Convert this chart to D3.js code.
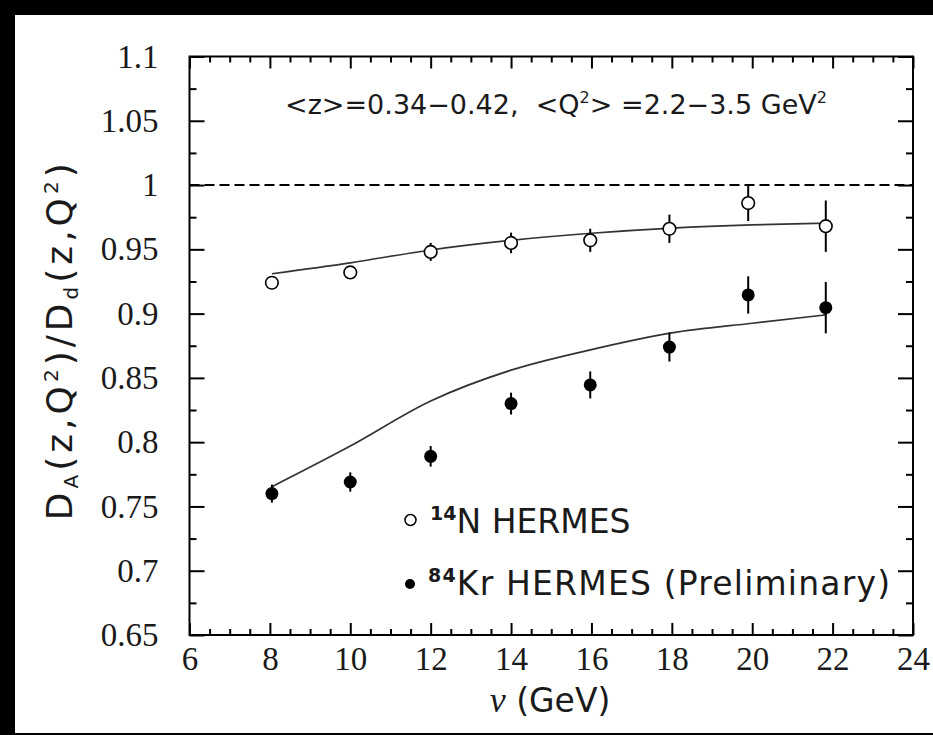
<!DOCTYPE html>
<html>
<head>
<meta charset="utf-8">
<script src="https://cdn.jsdelivr.net/npm/d3@7"></script>
<style>
  html, body { margin: 0; padding: 0; background: #000; }
  svg { display: block; }
</style>
</head>
<body>
<svg id="chart" width="933" height="735"></svg>
<script>
// Beam energy nu (GeV) of each bin
const nu = [8.05, 10.0, 12.0, 14.0, 15.97, 17.94, 19.9, 21.83];
// 14N HERMES multiplicity ratio and its uncertainty
const ratioN = [0.924, 0.932, 0.948, 0.955, 0.957, 0.966, 0.986, 0.968];
const errN   = [0.005, 0.005, 0.007, 0.008, 0.009, 0.011, 0.014, 0.020];
// 84Kr HERMES (preliminary) multiplicity ratio and its uncertainty
const ratioKr = [0.760, 0.769, 0.789, 0.830, 0.8445, 0.874, 0.9145, 0.9046];
const errKr   = [0.007, 0.0075, 0.008, 0.0085, 0.0105, 0.0113, 0.0145, 0.020];
// Model curves
const fitNu  = [8.05, 10, 12, 14, 16, 18, 20, 21.83];
const fitN   = [0.931, 0.9395, 0.9495, 0.957, 0.9625, 0.9665, 0.969, 0.9703];
const fitKr  = [0.7654, 0.797, 0.832, 0.856, 0.872, 0.885, 0.8925, 0.899];
// Axis ticks
const xTicks = [6, 8, 10, 12, 14, 16, 18, 20, 22, 24];
const xTickLabels = ["6", "8", "10", "12", "14", "16", "18", "20", "22", "24"];
const yTicks = [0.65, 0.7, 0.75, 0.8, 0.85, 0.9, 0.95, 1.0, 1.05, 1.1];
const yTickLabels = ["0.65", "0.7", "0.75", "0.8", "0.85", "0.9", "0.95", "1", "1.05", "1.1"];

const svg = d3.select("#chart");

// white page on black surround
svg.append("rect").attr("x", 15).attr("y", 15).attr("width", 918).attr("height", 718).attr("fill", "#fff");

const x = d3.scaleLinear().domain([6, 24]).range([189.5, 913]);
const y = d3.scaleLinear().domain([0.65, 1.1]).range([635, 56.5]);

const serif = "'Liberation Serif', 'Times New Roman', serif";
const sans = "'DejaVu Sans', 'Liberation Sans', sans-serif";
const ink = "#1a1a1a";

const xMinor = d3.range(6, 24.01, 0.5).filter(v => Math.abs(v / 2 - Math.round(v / 2)) > 1e-6);
const yMinor = d3.range(0, 9).map(i => 0.675 + i * 0.05);

function styleAxis(g) {
  g.select(".domain").remove();
  g.selectAll("line").attr("stroke", "#000").attr("stroke-width", 2);
  g.selectAll("text").attr("font-family", serif).attr("font-size", 33).attr("fill", ink);
}

// bottom axis (labels) and top mirror
svg.append("g").attr("transform", `translate(0,${y(0.65)})`)
  .call(d3.axisBottom(x).tickValues(xTicks).tickFormat((d, i) => xTickLabels[i]).tickSizeInner(-12).tickSizeOuter(0).tickPadding(12))
  .call(styleAxis);
svg.append("g").attr("transform", `translate(0,${y(0.65)})`)
  .call(d3.axisBottom(x).tickValues(xMinor).tickFormat("").tickSizeInner(-6).tickSizeOuter(0))
  .call(styleAxis);
svg.append("g").attr("transform", `translate(0,${y(1.1)})`)
  .call(d3.axisTop(x).tickValues(xTicks).tickFormat("").tickSizeInner(-12).tickSizeOuter(0))
  .call(styleAxis);
svg.append("g").attr("transform", `translate(0,${y(1.1)})`)
  .call(d3.axisTop(x).tickValues(xMinor).tickFormat("").tickSizeInner(-6).tickSizeOuter(0))
  .call(styleAxis);

// left axis (labels) and right mirror
svg.append("g").attr("transform", `translate(${x(6)},0)`)
  .call(d3.axisLeft(y).tickValues(yTicks).tickFormat((d, i) => yTickLabels[i]).tickSizeInner(-15).tickSizeOuter(0).tickPadding(31))
  .call(styleAxis);
svg.append("g").attr("transform", `translate(${x(6)},0)`)
  .call(d3.axisLeft(y).tickValues(yMinor).tickFormat("").tickSizeInner(-7).tickSizeOuter(0))
  .call(styleAxis);
svg.append("g").attr("transform", `translate(${x(24)},0)`)
  .call(d3.axisRight(y).tickValues(yTicks).tickFormat("").tickSizeInner(-15).tickSizeOuter(0))
  .call(styleAxis);
svg.append("g").attr("transform", `translate(${x(24)},0)`)
  .call(d3.axisRight(y).tickValues(yMinor).tickFormat("").tickSizeInner(-7).tickSizeOuter(0))
  .call(styleAxis);

// frame
svg.append("rect")
  .attr("x", x(6)).attr("y", y(1.1))
  .attr("width", x(24) - x(6)).attr("height", y(0.65) - y(1.1))
  .attr("fill", "none").attr("stroke", "#000").attr("stroke-width", 2);

// unity reference
svg.append("line")
  .attr("x1", x(6)).attr("x2", x(24)).attr("y1", y(1)).attr("y2", y(1))
  .attr("stroke", "#000").attr("stroke-width", 2).attr("stroke-dasharray", "10,5");

// model curves
const line = d3.line().x(d => x(d[0])).y(d => y(d[1])).curve(d3.curveMonotoneX);
[fitN, fitKr].forEach(vals => {
  svg.append("path")
    .datum(fitNu.map((v, i) => [v, vals[i]]))
    .attr("d", line)
    .attr("fill", "none").attr("stroke", "#333").attr("stroke-width", 1.7);
});

// data points with error bars
function drawSeries(vals, errs, open) {
  const g = svg.append("g");
  const pts = nu.map((v, i) => ({ nu: v, r: vals[i], e: errs[i] }));
  g.selectAll("line.err").data(pts).join("line")
    .attr("x1", d => x(d.nu)).attr("x2", d => x(d.nu))
    .attr("y1", d => y(d.r - d.e)).attr("y2", d => y(d.r + d.e))
    .attr("stroke", "#000").attr("stroke-width", 2);
  g.selectAll("circle").data(pts).join("circle")
    .attr("cx", d => x(d.nu)).attr("cy", d => y(d.r)).attr("r", open ? 6.3 : 6.5)
    .attr("fill", open ? "#fff" : "#000")
    .attr("stroke", "#000").attr("stroke-width", open ? 1.6 : 0);
}
drawSeries(ratioN, errN, true);
drawSeries(ratioKr, errKr, false);

// legend
const legend = svg.append("g").attr("font-family", sans).attr("fill", ink);
legend.append("circle").attr("cx", 410.5).attr("cy", 520).attr("r", 5.5).attr("fill", "#fff").attr("stroke", "#000").attr("stroke-width", 1.5);
const t1 = legend.append("text").attr("x", 430).attr("y", 533).attr("font-size", 33);
t1.append("tspan").attr("font-size", 19).attr("dy", -13).attr("font-weight", "bold").text("14");
t1.append("tspan").attr("dy", 13).text("N HERMES");
legend.append("circle").attr("cx", 410).attr("cy", 584).attr("r", 5).attr("fill", "#000");
const t2 = legend.append("text").attr("x", 428).attr("y", 595).attr("font-size", 33)
  .attr("textLength", 462).attr("lengthAdjust", "spacing");
t2.append("tspan").attr("font-size", 19).attr("dy", -13).attr("font-weight", "bold").text("84");
t2.append("tspan").attr("dy", 13).text("Kr HERMES (Preliminary)");

// kinematic range annotation
const ann = svg.append("text").attr("x", 556).attr("y", 114).attr("text-anchor", "middle")
  .attr("font-family", sans).attr("font-size", 27).attr("fill", ink)
  .style("white-space", "pre");
ann.append("tspan").text("<z>=0.34\u22120.42,  <Q");
ann.append("tspan").attr("font-size", 16).attr("dy", -11).text("2");
ann.append("tspan").attr("dy", 11).text("> =2.2\u22123.5 GeV");
ann.append("tspan").attr("font-size", 16).attr("dy", -11).text("2");

// axis titles
const xt = svg.append("text").attr("x", 550).attr("y", 712).attr("text-anchor", "middle")
  .attr("font-family", sans).attr("font-size", 33).attr("fill", ink);
xt.append("tspan").attr("font-family", serif).attr("font-style", "italic").attr("font-size", 36).text("\u03bd");
xt.append("tspan").text(" (GeV)");

const yt = svg.append("text").attr("transform", `translate(72,${(y(0.65) + y(1.1)) / 2 - 6}) rotate(-90)`)
  .attr("text-anchor", "middle").attr("font-family", sans).attr("font-size", 36)
  .attr("letter-spacing", 4).attr("fill", ink);
yt.append("tspan").text("D");
yt.append("tspan").attr("font-size", 20).attr("dy", 6).text("A");
yt.append("tspan").attr("dy", -6).text("(z,Q");
yt.append("tspan").attr("font-size", 20).attr("dy", -14).text("2");
yt.append("tspan").attr("dy", 14).text(")/D");
yt.append("tspan").attr("font-size", 20).attr("dy", 6).text("d");
yt.append("tspan").attr("dy", -6).text("(z,Q");
yt.append("tspan").attr("font-size", 20).attr("dy", -14).text("2");
yt.append("tspan").attr("dy", 14).text(")");
</script>
</body>
</html>
